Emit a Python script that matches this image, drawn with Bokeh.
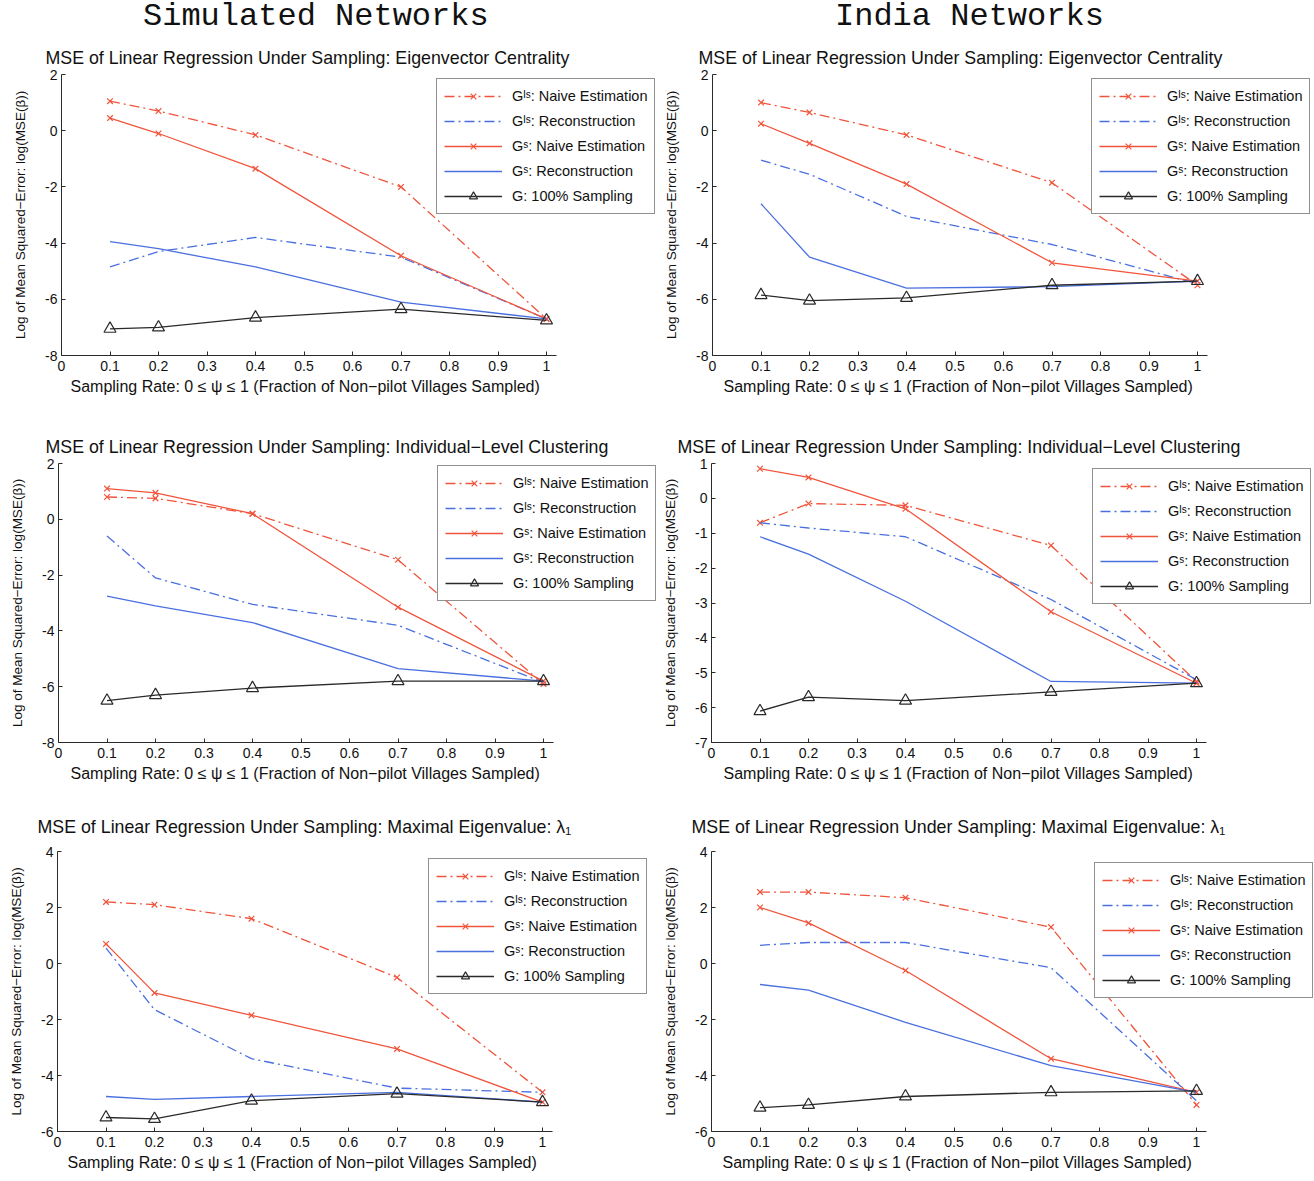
from bokeh.plotting import figure
from bokeh.models import Title, Legend, LegendItem, FixedTicker, CustomJSTickFormatter, Range1d, Div
from bokeh.layouts import column, row
from bokeh.embed import file_html
from bokeh.resources import INLINE

# ---------------- data ----------------
x_rate = [0.1, 0.2, 0.4, 0.7, 1.0]
x_ticks = [0, 0.1, 0.2, 0.3, 0.4, 0.5, 0.6, 0.7, 0.8, 0.9, 1.0]

series_labels = ["Gᴵˢ: Naive Estimation", "Gᴵˢ: Reconstruction",
                 "Gˢ: Naive Estimation", "Gˢ: Reconstruction", "G: 100% Sampling"]

col_headers = ["Simulated Networks", "India Networks"]
panel_titles = ["MSE of Linear Regression Under Sampling: Eigenvector Centrality",
                "MSE of Linear Regression Under Sampling: Individual−Level Clustering",
                "MSE of Linear Regression Under Sampling: Maximal Eigenvalue: λ₁"]

# Simulated - Eigenvector centrality
sim_eig_gis_naive = [1.05, 0.7, -0.15, -2.0, -6.7]
sim_eig_gis_recon = [-4.85, -4.3, -3.8, -4.5, -6.7]
sim_eig_gs_naive = [0.45, -0.1, -1.35, -4.45, -6.7]
sim_eig_gs_recon = [-3.95, -4.2, -4.85, -6.1, -6.7]
sim_eig_full = [-7.05, -7.0, -6.65, -6.35, -6.75]

# India - Eigenvector centrality
ind_eig_gis_naive = [1.0, 0.65, -0.15, -1.85, -5.5]
ind_eig_gis_recon = [-1.05, -1.55, -3.05, -4.05, -5.45]
ind_eig_gs_naive = [0.25, -0.45, -1.9, -4.7, -5.35]
ind_eig_gs_recon = [-2.6, -4.5, -5.6, -5.55, -5.35]
ind_eig_full = [-5.85, -6.05, -5.95, -5.5, -5.35]

# Simulated - Individual-level clustering
sim_clu_gis_naive = [0.8, 0.75, 0.2, -1.45, -5.9]
sim_clu_gis_recon = [-0.6, -2.1, -3.05, -3.8, -5.85]
sim_clu_gs_naive = [1.1, 0.95, 0.2, -3.15, -5.8]
sim_clu_gs_recon = [-2.75, -3.1, -3.7, -5.35, -5.8]
sim_clu_full = [-6.5, -6.3, -6.05, -5.8, -5.8]

# India - Individual-level clustering
ind_clu_gis_naive = [-0.7, -0.15, -0.2, -1.35, -5.25]
ind_clu_gis_recon = [-0.7, -0.85, -1.1, -2.9, -5.2]
ind_clu_gs_naive = [0.85, 0.6, -0.3, -3.25, -5.3]
ind_clu_gs_recon = [-1.1, -1.6, -2.95, -5.25, -5.3]
ind_clu_full = [-6.1, -5.7, -5.8, -5.55, -5.3]

# Simulated - Maximal eigenvalue
sim_lam_gis_naive = [2.2, 2.1, 1.6, -0.5, -4.6]
sim_lam_gis_recon = [0.55, -1.65, -3.4, -4.45, -4.6]
sim_lam_gs_naive = [0.7, -1.05, -1.85, -3.05, -4.95]
sim_lam_gs_recon = [-4.75, -4.85, -4.75, -4.6, -4.95]
sim_lam_full = [-5.5, -5.55, -4.9, -4.65, -4.95]

# India - Maximal eigenvalue
ind_lam_gis_naive = [2.55, 2.55, 2.35, 1.3, -5.05]
ind_lam_gis_recon = [0.65, 0.75, 0.75, -0.15, -4.9]
ind_lam_gs_naive = [2.0, 1.45, -0.25, -3.4, -4.6]
ind_lam_gs_recon = [-0.75, -0.95, -2.1, -3.65, -4.6]
ind_lam_full = [-5.15, -5.05, -4.75, -4.6, -4.55]

y_ticks_a = [-8, -6, -4, -2, 0, 2]
y_ticks_b = [-7, -6, -5, -4, -3, -2, -1, 0, 1]
y_ticks_c = [-6, -4, -2, 0, 2, 4]

# ---------------- style ----------------
RED = "#F0553C"
BLUE = "#4A70E0"
BLACK = "#2A2A2A"
FONT = "Liberation Sans"
PX_PER_UNIT = 485.0

XLABEL = "Sampling Rate: 0 ≤ ψ ≤ 1 (Fraction of Non−pilot Villages Sampled)"
YLABEL = "Log of Mean Squared−Error: log(MSE(β))"


def make_panel(series, yr, yticks, title, title_off, title_standoff, borders, fw, fh,
               legend_loc, xlabel_off):
    bl, bt, br, bb = borders
    p = figure(frame_width=fw, frame_height=fh, x_range=Range1d(0, fw / PX_PER_UNIT),
               y_range=Range1d(*yr), output_backend="svg", toolbar_location=None,
               title=None, min_border_left=bl, min_border_top=bt,
               min_border_right=br, min_border_bottom=bb)
    p.outline_line_color = None
    p.xgrid.visible = False
    p.ygrid.visible = False
    p.background_fill_color = "white"
    p.border_fill_color = "white"

    for ax in (p.xaxis[0], p.yaxis[0]):
        ax.axis_line_color = BLACK
        ax.axis_line_width = 1
        ax.major_tick_line_color = BLACK
        ax.major_tick_in = 4
        ax.major_tick_out = 0
        ax.minor_tick_line_color = None
        ax.major_label_text_font = FONT
        ax.major_label_text_font_size = "14px"
        ax.major_label_text_color = "#111111"
        ax.axis_label_text_font = FONT
        ax.axis_label_text_font_style = "normal"
        ax.axis_label_text_color = "#111111"
        ax.formatter = CustomJSTickFormatter(code="return (Math.round(tick*10)/10).toString();")
    p.xaxis[0].ticker = FixedTicker(ticks=x_ticks)
    p.xaxis[0].bounds = (0, 1.02)
    p.xaxis[0].major_label_standoff = 5
    p.yaxis[0].ticker = FixedTicker(ticks=yticks)
    p.yaxis[0].axis_label = YLABEL
    p.yaxis[0].axis_label_text_font_size = "13.5px"
    p.yaxis[0].major_label_standoff = 4
    p.yaxis[0].axis_label_standoff = 14

    gis_naive, gis_recon, gs_naive, gs_recon, full = series
    r1 = p.line(x_rate, gis_naive, line_color=RED, line_width=1.3, line_dash="10 4 2 4")
    m1 = p.scatter(x_rate, gis_naive, marker="x", size=8, line_color=RED, line_width=1.2)
    r2 = p.line(x_rate, gis_recon, line_color=BLUE, line_width=1.3, line_dash="10 4 2 4")
    r3 = p.line(x_rate, gs_naive, line_color=RED, line_width=1.3)
    m3 = p.scatter(x_rate, gs_naive, marker="x", size=8, line_color=RED, line_width=1.2)
    r4 = p.line(x_rate, gs_recon, line_color=BLUE, line_width=1.3)
    r5 = p.line(x_rate, full, line_color=BLACK, line_width=1.3)
    m5 = p.scatter(x_rate, full, marker="triangle", size=12, line_color=BLACK,
                   fill_color=None, line_width=1.2)

    items = [LegendItem(label=series_labels[0], renderers=[r1, m1]),
             LegendItem(label=series_labels[1], renderers=[r2]),
             LegendItem(label=series_labels[2], renderers=[r3, m3]),
             LegendItem(label=series_labels[3], renderers=[r4]),
             LegendItem(label=series_labels[4], renderers=[r5, m5])]
    leg = Legend(items=items, location=legend_loc, border_line_color="#222222",
                 border_line_width=1.2, background_fill_color="white", background_fill_alpha=1,
                 label_text_font=FONT, label_text_font_size="14.5px", label_text_color="#111111",
                 glyph_width=58, glyph_height=20, label_height=20, spacing=5,
                 padding=7, margin=0, label_standoff=10)
    p.add_layout(leg, "center")

    p.add_layout(Title(text=XLABEL, text_font=FONT, text_font_size="16px",
                       text_font_style="normal", text_color="#111111", align="left",
                       offset=xlabel_off, standoff=5), "below")
    p.add_layout(Title(text=title, text_font=FONT, text_font_size="17.8px",
                       text_font_style="normal", text_color="#111111", align="left",
                       offset=title_off, standoff=title_standoff), "above")
    return p


def header(text, width, indent):
    return Div(text=f'<span style="position:relative; top:2px">{text}</span>',
               width=width, height=30, margin=(0, 0, 0, 0),
               styles={"font-family": "Liberation Mono", "font-size": "32px",
                       "line-height": "30px", "text-indent": f"{indent}px",
                       "color": "#111111", "white-space": "nowrap", "overflow": "visible"})


h1 = header(col_headers[0], 660, 143)
h2 = header(col_headers[1], 652, 175)

p1 = make_panel([sim_eig_gis_naive, sim_eig_gis_recon, sim_eig_gs_naive, sim_eig_gs_recon, sim_eig_full],
                (-8, 2), y_ticks_a, panel_titles[0], -16, 13, (61, 44, 1, 50), 598, 281, (375, 141), 9)
p2 = make_panel([ind_eig_gis_naive, ind_eig_gis_recon, ind_eig_gs_naive, ind_eig_gs_recon, ind_eig_full],
                (-8, 2), y_ticks_a, panel_titles[0], -14, 13, (52, 44, 1, 50), 599, 281, (379, 141), 11)
p3 = make_panel([sim_clu_gis_naive, sim_clu_gis_recon, sim_clu_gs_naive, sim_clu_gs_recon, sim_clu_full],
                (-8, 2), y_ticks_a, panel_titles[1], -13, 13, (58, 58, 1, 48), 601, 279, (379, 141), 12)
p4 = make_panel([ind_clu_gis_naive, ind_clu_gis_recon, ind_clu_gs_naive, ind_clu_gs_recon, ind_clu_full],
                (-7, 1), y_ticks_b, panel_titles[1], -34, 13, (50, 58, 1, 48), 601, 279, (381, 138), 12)
p5 = make_panel([sim_lam_gis_naive, sim_lam_gis_recon, sim_lam_gs_naive, sim_lam_gs_recon, sim_lam_full],
                (-6, 4), y_ticks_c, panel_titles[2], -20, 29, (57, 61, 1, 47), 602, 280, (371, 137), 10)
p6 = make_panel([ind_lam_gis_naive, ind_lam_gis_recon, ind_lam_gs_naive, ind_lam_gs_recon, ind_lam_full],
                (-6, 4), y_ticks_c, panel_titles[2], -20, 29, (48, 61, 1, 47), 603, 280, (383, 133), 11)

layout = column(row(h1, h2), row(p1, p2), row(p3, p4), row(p5, p6))
open("out.html", "w").write(file_html(layout, INLINE))
